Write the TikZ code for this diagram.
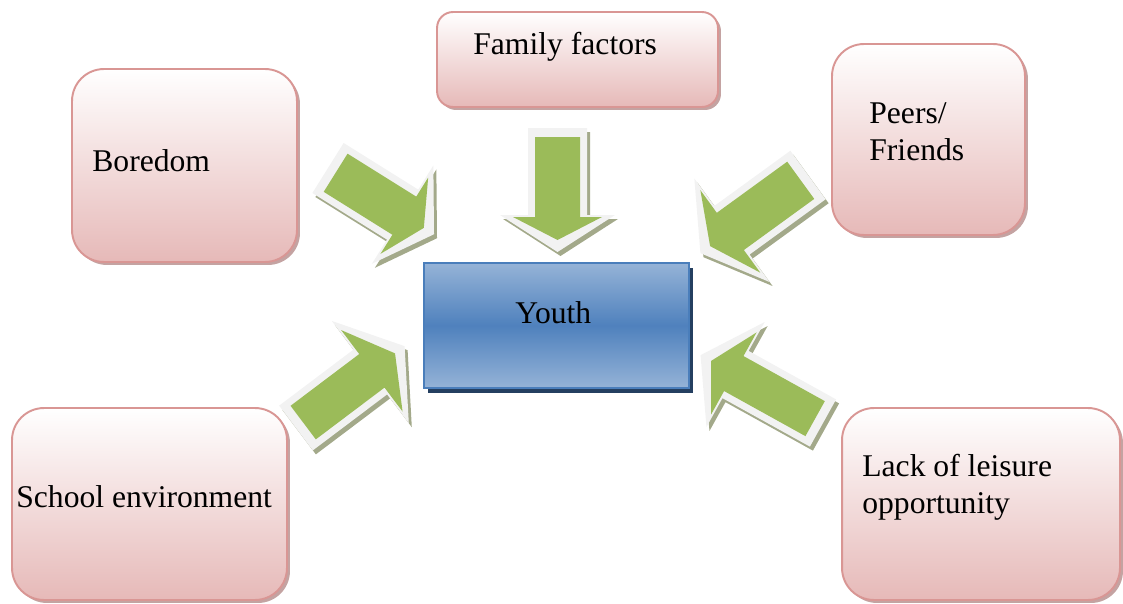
\documentclass[tikz,border=0pt]{standalone}
\usepackage{fontspec}
\setmainfont{Liberation Serif}
\usetikzlibrary{shadows}

\definecolor{pinkline}{HTML}{D99694}
\definecolor{pinkfill}{HTML}{E6B9B8}
\definecolor{pinkshade}{HTML}{C4A3A2}
\definecolor{bluelight}{HTML}{95B3D7}
\definecolor{bluemid}{HTML}{4F81BD}
\definecolor{blueline}{HTML}{4A7EBB}
\definecolor{blueshade}{HTML}{243F60}
\definecolor{arrowgreen}{HTML}{9BBB59}
\definecolor{arrowrimcol}{HTML}{F2F2F2}
\definecolor{arrowshadecol}{HTML}{A3A98A}

% Block arrow: tail centre (x,y), angle, half shaft width, shaft length,
% total length, half head width
\newcommand\blockarrow[7]{%
  \pgfmathsetmacro\arwS{#4-7}%
  \pgfmathsetmacro\arwLs{#5+2}%
  \pgfmathsetmacro\arwL{#6-12}%
  \pgfmathsetmacro\arwH{#7-13}%
  \begin{scope}[shift={(#1,#2)},shift={(3,-4)},rotate=#3]
    \fill[arrowshadecol] (0,-#4) -- (#5,-#4) -- (#5,-#7) -- (#6,0) -- (#5,#7) -- (#5,#4) -- (0,#4) -- cycle;
  \end{scope}
  \begin{scope}[shift={(#1,#2)},rotate=#3]
    \fill[arrowrimcol] (0,-#4) -- (#5,-#4) -- (#5,-#7) -- (#6,0) -- (#5,#7) -- (#5,#4) -- (0,#4) -- cycle;
    \fill[arrowgreen] (9,-\arwS) -- (\arwLs,-\arwS) -- (\arwLs,-\arwH) -- (\arwL,0) -- (\arwLs,\arwH) -- (\arwLs,\arwS) -- (9,\arwS) -- cycle;
  \end{scope}}

\begin{document}
\begin{tikzpicture}[x=0.02cm,y=0.02cm,
  pinkbox/.style={draw=pinkline, line width=1.1pt, rounded corners=#1,
    top color=white, bottom color=pinkfill, inner sep=0pt,
    general shadow={fill=pinkshade, shadow xshift=0.06cm, shadow yshift=-0.06cm}},
  pinkbox/.default=0.64cm,
  youthbox/.style={draw=blueline, line width=1.1pt,
    top color=bluelight, bottom color=bluelight, middle color=bluemid, inner sep=0pt,
    general shadow={fill=blueshade, shadow xshift=0.08cm, shadow yshift=-0.1cm}},
  lbl/.style={anchor=base west, inner sep=0pt, align=left,
    font=\fontsize{18}{21}\selectfont}]

\useasboundingbox (0,0) rectangle (1123,603);

% arrows pointing at the central box
\blockarrow{328}{435}{-32}{29.5}{88}{125}{58}
\blockarrow{557.5}{475}{-90}{29.5}{87}{124}{57.5}
\blockarrow{808}{428}{-144}{30}{94}{133}{64}
\blockarrow{296}{175}{37}{28}{93}{136}{64}
\blockarrow{823}{180}{151}{27}{100}{140}{60}

% factor boxes
\node[pinkbox, minimum width=4.5cm, minimum height=3.86cm] (boredom) at (184.5,437.5) {};
\node[pinkbox=0.32cm, minimum width=5.62cm, minimum height=1.9cm] (family) at (577.5,543.5) {};
\node[pinkbox, minimum width=3.86cm, minimum height=3.82cm] (peers) at (928.5,463.5) {};
\node[pinkbox, minimum width=5.5cm, minimum height=3.84cm] (school) at (149.5,99) {};
\node[pinkbox, minimum width=5.56cm, minimum height=3.84cm] (leisure) at (981,99) {};

% central box
\node[youthbox, minimum width=5.3cm, minimum height=2.5cm] (youth) at (556.5,277.5) {};

% labels (multi-line ones are placed by the baseline of their last line)
\node[lbl] (tboredom) at (92,432) {Boredom};
\node[lbl] (tfamily) at (473,548) {Family factors};
\node[lbl] (tpeers) at (869,443) {Peers/\\Friends};
\node[lbl] (tyouth) at (515,280) {Youth};
\node[lbl] (tschool) at (16,96) {School environment};
\node[lbl] (tleisure) at (862,90) {Lack of leisure\\opportunity};
\end{tikzpicture}
\end{document}
